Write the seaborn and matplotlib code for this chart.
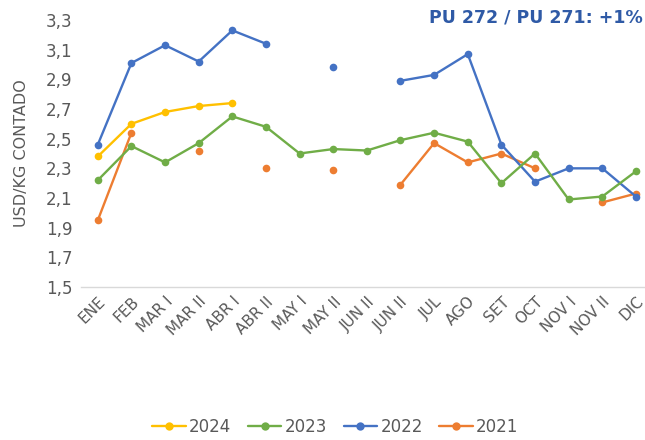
import numpy as np
import pandas as pd
import matplotlib.pyplot as plt
from matplotlib.lines import Line2D
import seaborn as sns

# categories on the x axis (as printed on the chart)
periodos = ['ENE', 'FEB', 'MAR I', 'MAR II', 'ABR I', 'ABR II', 'MAY I', 'MAY II',
            'JUN II', 'JUN II', 'JUL', 'AGO', 'SET', 'OCT', 'NOV I', 'NOV II', 'DIC']
nan = np.nan

# USD/kg contado
v2024 = [2.38, 2.60, 2.68, 2.72, 2.74, nan, nan, nan, nan, nan, nan, nan, nan, nan, nan, nan, nan]
v2023 = [2.22, 2.45, 2.34, 2.47, 2.65, 2.58, 2.40, 2.43, 2.42, 2.49, 2.54, 2.48, 2.20, 2.40, 2.09, 2.11, 2.28]
v2022 = [2.46, 3.01, 3.13, 3.02, 3.23, 3.14, nan, 2.98, nan, 2.89, 2.93, 3.07, 2.46, 2.21, 2.30, 2.30, 2.11]
v2021 = [1.95, 2.54, nan, 2.42, nan, 2.30, nan, 2.29, nan, 2.19, 2.47, 2.34, 2.40, 2.30, nan, 2.07, 2.13]

series = {'2024': v2024, '2023': v2023, '2022': v2022, '2021': v2021}
colores = {'2024': '#FFC000', '2023': '#70AD47', '2022': '#4472C4', '2021': '#ED7D31'}
gris = '#595959'

sns.set_theme(style='white')
plt.rcParams['font.family'] = ['DejaVu Sans']

fig = plt.figure(figsize=(6.45, 4.4), dpi=100)
ax = fig.add_axes([81 / 645, 1 - 287 / 440, 1 - 81 / 645, (287 - 20) / 440])

x = np.arange(len(periodos))
for anio in ['2021', '2022', '2023', '2024']:
    vals = np.array(series[anio], dtype=float)
    # break the line where a value is missing
    df = pd.DataFrame({'x': x, 'v': vals, 'seg': np.isnan(vals).cumsum()}).dropna()
    sns.lineplot(data=df, x='x', y='v', units='seg', estimator=None, ax=ax,
                 color=colores[anio], linewidth=1.7, marker='o', markersize=5.5,
                 markeredgewidth=0, legend=False)

ax.set_xlim(-0.5, 16.27)
ax.set_ylim(1.5, 3.3)
yt = np.round(np.arange(1.5, 3.31, 0.2), 1)
ax.set_yticks(yt)
ax.set_yticklabels([f'{t:.1f}'.replace('.', ',') for t in yt], color=gris, fontsize=12)
ax.set_xticks(x)
ax.set_xticklabels(periodos, rotation=45, ha='right', rotation_mode='anchor',
                   color=gris, fontsize=11)
ax.tick_params(axis='y', length=0, pad=6)
ax.tick_params(axis='x', length=0, pad=5)
ax.set_xlabel('')
ax.set_ylabel('USD/KG CONTADO', color=gris, fontsize=11.5, labelpad=12)
ax.grid(False)
for s in ['left', 'right', 'top']:
    ax.spines[s].set_visible(False)
ax.spines['bottom'].set_color('#D9D9D9')
ax.spines['bottom'].set_linewidth(1)

fig.text(0.997, 0.96, 'PU 272 / PU 271: +1%', ha='right', va='center',
         color='#2F5AA6', fontsize=12.5, fontweight='bold')

handles = [Line2D([0], [0], color=colores[a], linewidth=1.7, marker='o',
                  markersize=6, markeredgewidth=0) for a in ['2024', '2023', '2022', '2021']]
fig.legend(handles, ['2024', '2023', '2022', '2021'], loc='center',
           bbox_to_anchor=(0.52, 0.03), ncol=4, frameon=False, fontsize=12,
           handlelength=2.0, handletextpad=0.2, columnspacing=1.0, labelcolor=gris)

fig.savefig('out.png', dpi=100)
